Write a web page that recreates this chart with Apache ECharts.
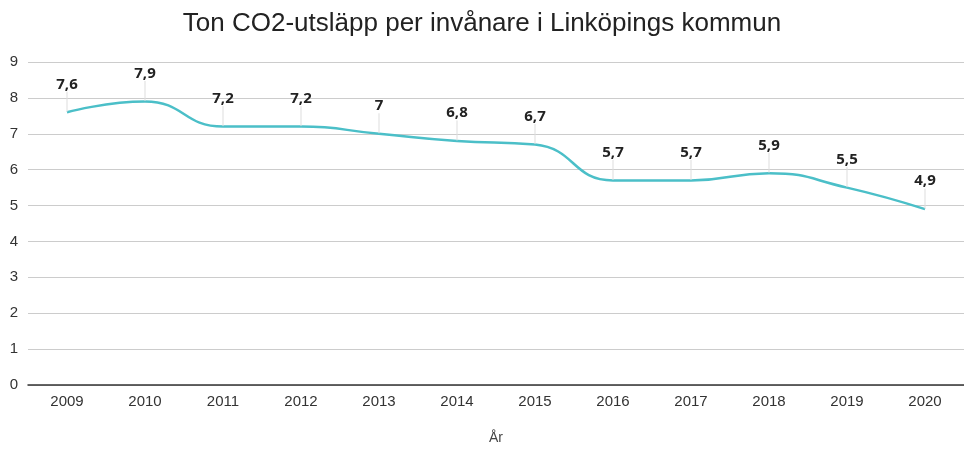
<!DOCTYPE html>
<html>
<head>
<meta charset="utf-8">
<script src="https://cdn.jsdelivr.net/npm/echarts@6/dist/echarts.min.js"></script>
<style>
  html, body { margin: 0; padding: 0; background: #fff; }
  #chart { width: 964px; height: 450px; }
</style>
</head>
<body>
<div id="chart"></div>
<script>
// Ton CO2 per invånare, Linköping
const years = ['2009', '2010', '2011', '2012', '2013', '2014', '2015', '2016', '2017', '2018', '2019', '2020'];
const values = [7.6, 7.9, 7.2, 7.2, 7.0, 6.8, 6.7, 5.7, 5.7, 5.9, 5.5, 4.9];
const yTicks = [0, 9, 1]; // min, max, interval

const chart = echarts.init(document.getElementById('chart'));
chart.setOption({
  backgroundColor: '#fff',
  animation: false,
  title: {
    text: 'Ton CO2-utsläpp per invånare i Linköpings kommun',
    left: 'center', top: 6,
    textStyle: { fontFamily: 'Liberation Sans', fontSize: 26, fontWeight: 'normal', color: '#222' },
  },
  grid: { left: 28, right: -2, top: 62, bottom: 62 },
  xAxis: {
    type: 'category',
    data: years,
    name: 'År',
    nameLocation: 'middle',
    nameGap: 46,
    nameTextStyle: { fontFamily: 'Liberation Sans', fontSize: 14, color: '#444' },
    axisLine: { lineStyle: { color: '#333', width: 1.5 } },
    axisTick: { show: false },
    axisLabel: { fontFamily: 'Liberation Sans', fontSize: 15, color: '#333', margin: 9 },
  },
  yAxis: {
    type: 'value',
    min: yTicks[0], max: yTicks[1], interval: yTicks[2],
    axisLine: { show: false },
    axisTick: { show: false },
    axisLabel: { fontFamily: 'Liberation Sans', fontSize: 15, color: '#333', margin: 10 },
    splitLine: { lineStyle: { color: '#ccc' } },
  },
  series: [{
    type: 'line',
    data: values,
    smooth: 0.5,
    symbol: 'circle',
    symbolSize: 1,
    showSymbol: true,
    itemStyle: { color: 'rgba(0,0,0,0)' },
    lineStyle: { color: '#4bbfc8', width: 2.5 },
    label: {
      show: true, position: 'top', distance: 4,
      fontFamily: 'Noto Sans', fontWeight: 'bold', fontSize: 15, color: '#222',
      formatter: p => String(p.value).replace('.', ','),
    },
    labelLayout: { dy: -16 },
    labelLine: { show: true, lineStyle: { color: '#ddd', width: 1 } },
  }],
});
</script>
</body>
</html>
